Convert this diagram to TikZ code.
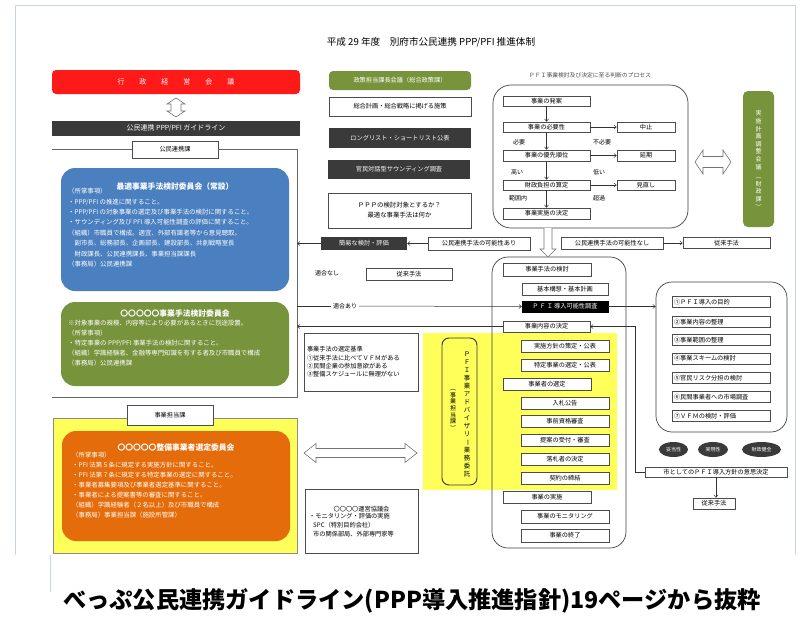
\documentclass[tikz,border=0pt]{standalone}
\usepackage{fontspec}
\setmainfont{Noto Sans CJK JP}
\usetikzlibrary{arrows.meta,shapes.geometric}
\definecolor{rd}{HTML}{FF1A1A}
\definecolor{dk}{HTML}{3A3A3A}
\definecolor{gr}{HTML}{77933C}
\definecolor{bl}{HTML}{4A7FC0}
\definecolor{org}{HTML}{E46C0A}
\definecolor{yl}{HTML}{FFFF5A}
\definecolor{frm}{HTML}{C8D4E6}
\newcommand\fsz[2]{\fontsize{#1}{#2}\selectfont}
\newcommand\vbar{\rotatebox[origin=c]{-90}{ー}}
% hollow block arrows: horizontal double, vertical double, single downward
\newcommand\hdarrowH[6]{\draw[hol] (#1,#3) -- ({#1+#6},{#3-#5}) -- ({#1+#6},{#3-#4}) -- ({#2-#6},{#3-#4}) -- ({#2-#6},{#3-#5}) -- (#2,#3) -- ({#2-#6},{#3+#5}) -- ({#2-#6},{#3+#4}) -- ({#1+#6},{#3+#4}) -- ({#1+#6},{#3+#5}) -- cycle;}
\newcommand\hdarrowV[6]{\draw[hol] (#1,#2) -- ({#1-#5},{#2+#6}) -- ({#1-#4},{#2+#6}) -- ({#1-#4},{#3-#6}) -- ({#1-#5},{#3-#6}) -- (#1,#3) -- ({#1+#5},{#3-#6}) -- ({#1+#4},{#3-#6}) -- ({#1+#4},{#2+#6}) -- ({#1+#5},{#2+#6}) -- cycle;}
\newcommand\hdarrowD[6]{\draw[hol] ({#1-#4},#2) -- ({#1-#4},{#3-#6}) -- ({#1-#5},{#3-#6}) -- (#1,#3) -- ({#1+#5},{#3-#6}) -- ({#1+#4},{#3-#6}) -- ({#1+#4},#2);}
\tikzset{
 wbox/.style={draw=black!70, line width=0.5pt, fill=white, inner sep=0pt, font=\fsz{6.2}{7.5}},
 dbox/.style={draw=none, fill=dk, text=white, inner sep=0pt, font=\fsz{6.2}{7.5}},
 arr/.style={-{Straight Barb[length=2.5pt,width=4pt]}, line width=0.5pt, draw=black!80},
 hol/.style={draw=black!55, fill=white, line width=0.6pt, line join=miter},
 lbl/.style={inner sep=0pt, font=\fsz{6}{7}},
 btxt/.style={inner sep=0pt, anchor=north west, align=left, text=white},
 bigr/.style={draw=black!75, line width=0.7pt, rounded corners=16pt, inner sep=0pt},
 colbox/.style={draw=none, rounded corners=14pt, inner sep=0pt},
 oval/.style={ellipse, fill=dk, text=white, inner sep=0pt, minimum height=15pt, font=\fsz{5}{6}},
}
\begin{document}
\begin{tikzpicture}[x=1pt,y=-1pt]
\useasboundingbox (0,0) rectangle (807,619);
\fill[white] (0,0) rectangle (807,619);
% outer frame
\draw[frm, line width=0.8pt] (15,555) -- (15,5) -- (795,5) -- (795,555);
\draw[frm, line width=0.8pt] (50,555) -- (50,592);
% title
\node[inner sep=0pt, font=\fsz{9.6}{11}] (title) at (431,42) {平成 29 年度　別府市公民連携 PPP/PFI 推進体制};

% ---------- left column
\node[fill=rd, rounded corners=4pt, minimum width=248pt, minimum height=24pt, inner sep=0pt, text=white, font=\fsz{7}{8}] (gyosei) at (176,82) {行\hspace{15pt}政\hspace{15pt}経\hspace{15pt}営\hspace{15pt}会\hspace{15pt}議};
\node[fill=dk, minimum width=248pt, minimum height=15pt, inner sep=0pt, text=white, font=\fsz{7}{8}] (guide) at (176,128.5) {公民連携 PPP/PFI ガイドライン};
\hdarrowV{176}{98}{117}{5}{9}{6}
\node[wbox, minimum width=86pt, minimum height=17pt] (kouminka) at (175,149.5) {公民連携課};
\draw[draw=black!60, line width=0.6pt] (52,149.5) -- (kouminka.west);
\draw[draw=black!60, line width=0.6pt] (kouminka.east) -- (297,149.5) -- (297,397) -- (52,397);
\coordinate (f1) at (297,243.5);
\coordinate (f2) at (297,326.5);
\coordinate (f0) at (297,306);

\node[colbox, fill=bl, minimum width=228pt, minimum height=123pt] (blue) at (175,229.5) {};
\node[inner sep=0pt, text=white, font=\bfseries\fsz{7.8}{9}] (bluet) at (175,187) {最適事業手法検討委員会（常設）};
\node[btxt, font=\fsz{6.4}{10.4}] (bluetx) at (68,188) {（所掌事項）\\・PPP/PFI の推進に関すること。\\・PPP/PFI の対象事業の選定及び事業手法の検討に関すること。\\・サウンディング及び PFI 導入可能性調査の評価に関すること。\\（組織）市職員で構成。適宜、外部有識者等から意見聴取。\\　副市長、総務部長、企画部長、建設部長、共創戦略室長\\　財政課長、公民連携課長、事業担当課課長\\（事務局）公民連携課};

\node[colbox, fill=gr, minimum width=228pt, minimum height=84pt] (green) at (175,344) {};
\node[inner sep=0pt, text=white, font=\bfseries\fsz{7.8}{9}] (greent) at (175,313.5) {〇〇〇〇〇事業手法検討委員会};
\node[btxt, font=\fsz{6.4}{10.2}] (greentx) at (68,319.5) {※対象事業の規模、内容等により必要があるときに別途設置。\\（所掌事項）\\・特定事業の PPP/PFI 事業手法の検討に関すること。\\（組織）学識経験者、金融等専門知識を有する者及び市職員で構成\\（事務局）公民連携課};

\node[draw=black!45, line width=0.5pt, fill=yl, minimum width=244pt, minimum height=135pt, inner sep=0pt] (yellowL) at (175,485.5) {};
\node[wbox, minimum width=86pt, minimum height=20pt] (tanto) at (170,415) {事業担当課};
\node[colbox, fill=org, minimum width=228pt, minimum height=110pt] (orange) at (176,486) {};
\node[inner sep=0pt, text=white, font=\bfseries\fsz{7.8}{9}] (oranget) at (176,448) {〇〇〇〇〇整備事業者選定委員会};
\node[btxt, font=\fsz{6.4}{10}] (orangetx) at (72,451.5) {（所掌事項）\\・PFI 法第５条に規定する実施方針に関すること。\\・PFI 法第７条に規定する特定事業の選定に関すること。\\・事業者募集要項及び事業者選定基準に関すること。\\・事業者による提案書等の審査に関すること。\\（組織）学識経験者（２名以上）及び市職員で構成\\（事務局）事業担当課（施設所管課）};

% ---------- middle column
\node[fill=gr, rounded corners=4pt, minimum width=142pt, minimum height=19pt, inner sep=0pt, text=white, font=\fsz{6.2}{7.5}] (seisaku) at (400,80.5) {政策担当課長会議（総合政策課）};
\node[wbox, minimum width=142pt, minimum height=19pt] (sogo) at (400,106.5) {総合計画・総合戦略に掲げる施策};
\node[dbox, minimum width=142pt, minimum height=20pt] (long) at (400,138) {ロングリスト・ショートリスト公表};
\node[dbox, minimum width=142pt, minimum height=19pt] (kanmin) at (399,169.5) {官民対話型サウンディング調査};
\node[wbox, minimum width=143pt, minimum height=35pt, align=center, font=\fsz{6.4}{10}] (pppq) at (399.5,210.5) {ＰＰＰの検討対象とするか？\\最適な事業手法は何か};
\node[dbox, minimum width=86pt, minimum height=13pt] (kani) at (364,243.5) {簡易な検討・評価};
\node[wbox, minimum width=102pt, minimum height=13pt] (kanoari) at (479,243.5) {公民連携手法の可能性あり};
\draw[arr] (kanoari.west) -- (kani.east);
\draw[arr] (kani.west) -- (f1);
\node[lbl] (tekinashi) at (327,273.5) {適合なし};
\node[wbox, minimum width=86pt, minimum height=12pt] (jurai1) at (409,274) {従来手法};

\node[wbox, minimum width=114pt, minimum height=58pt, text width=108pt, align=left, font=\fsz{6.2}{8.4}] (kijun) at (361,362) {事業手法の選定基準\\①従来手法に比べてＶＦＭがある\\②民間企業の参加意欲がある\\③整備スケジュールに無理がない\\[8pt]};

\fill[yl] (423,333) rectangle (617,490);
\node[draw=black!80, line width=0.9pt, fill=yl, rounded corners=7pt, minimum width=35pt, minimum height=147pt, inner sep=0pt] (advisor) at (459.5,411.5) {};
\node[inner sep=0pt, align=center, font=\fsz{6.4}{8}] (advt) at (467,414) {Ｐ\\Ｆ\\Ｉ\\事\\業\\ア\\ド\\バ\\イ\\ザ\\リ\\\vbar\\業\\務\\委\\託};
\node[inner sep=0pt, align=center, font=\fsz{6}{6.6}] (advt2) at (453,410) {︵\\事\\業\\担\\当\\課\\︶};

\hdarrowH{304}{417}{453}{4.5}{9.5}{12}

\node[wbox, minimum width=113pt, minimum height=64pt] (unei) at (361.5,521) {};
\node[inner sep=0pt, font=\fsz{6.2}{7.5}] (ueit) at (361.5,509) {〇〇〇〇運営協議会};
\node[inner sep=0pt, anchor=north west, align=left, font=\fsz{6.2}{9}] (ueitx) at (309,513) {・モニタリング・評価の実施\\\hspace*{4pt}SPC（特別目的会社）\\\hspace*{4pt}市の関係部局、外部専門家等};

% ---------- process column (top)
\node[bigr, rounded corners=18pt, minimum width=195pt, minimum height=143pt] (proc) at (590.5,156.5) {};
\node[inner sep=0pt, text=black!70, font=\fsz{5.8}{7}] (proct) at (590,75) {ＰＦＩ事業検討及び決定に至る判断のプロセス};
\node[wbox, minimum width=87pt, minimum height=10pt] (hatsuan) at (546.5,101) {事業の発案};
\node[wbox, minimum width=87pt, minimum height=10pt] (hitsuyo) at (546.5,127) {事業の必要性};
\node[wbox, minimum width=87pt, minimum height=11pt] (yusen) at (546.5,155.5) {事業の優先順位};
\node[wbox, minimum width=87pt, minimum height=10pt] (zaisei) at (546.5,185) {財政負担の算定};
\node[wbox, minimum width=87pt, minimum height=11pt] (kettei) at (546.5,213.5) {事業実施の決定};
\node[wbox, minimum width=58pt, minimum height=10pt] (chushi) at (646,127) {中止};
\node[wbox, minimum width=58pt, minimum height=11pt] (enki) at (646,155.5) {延期};
\node[wbox, minimum width=58pt, minimum height=10pt] (minaoshi) at (646,185) {見直し};
\draw[arr] (hatsuan) -- (hitsuyo);
\draw[arr] (hitsuyo) -- (yusen);
\draw[arr] (yusen) -- (zaisei);
\draw[arr] (zaisei) -- (kettei);
\draw[arr] (hitsuyo) -- (chushi);
\draw[arr] (yusen) -- (enki);
\draw[arr] (zaisei) -- (minaoshi);
\node[lbl] (l1) at (519,142) {必要};
\node[lbl] (l2) at (602,142) {不必要};
\node[lbl] (l3) at (517,172.5) {高い};
\node[lbl] (l4) at (599,172.5) {低い};
\node[lbl] (l5) at (518,198) {範囲内};
\node[lbl] (l6) at (599,198) {超過};

\node[wbox, minimum width=102pt, minimum height=12pt] (kanonashi) at (612,243) {公民連携手法の可能性なし};
\node[wbox, minimum width=87pt, minimum height=11pt] (jurai2) at (726.5,243) {従来手法};
\draw[arr] (kanonashi.east) -- (jurai2.west);

\node[fill=gr, rounded corners=5pt, minimum width=31pt, minimum height=136pt, inner sep=0pt] (jk) at (758.5,159) {};
\node[inner sep=0pt, align=center, text=white, font=\fsz{6}{7.6}] (jkt) at (758.5,160) {実\\施\\計\\画\\調\\整\\会\\議\\[2pt]︵\\財\\政\\課\\︶};
\hdarrowH{695}{731}{162}{5.5}{12}{8}

% ---------- second process box
\node[bigr, minimum width=134pt, minimum height=291pt] (proc2) at (559,402.5) {};
\hdarrowD{548}{228}{257}{4}{8}{8}
\node[wbox, minimum width=88pt, minimum height=13pt] (kento) at (547,269.5) {事業手法の検討};
\node[wbox, minimum width=86pt, minimum height=12pt] (kihon) at (565,289) {基本構想・基本計画};
\node[draw=black, fill=black, text=white, minimum width=86pt, minimum height=11pt, inner sep=0pt, font=\fsz{6.2}{7.5}] (fs) at (565,306.5) {Ｐ\,Ｆ\,Ｉ\,導入可能性調査};
\node[wbox, minimum width=87pt, minimum height=11pt] (naiyo) at (546.5,326.5) {事業内容の決定};
\node[wbox, minimum width=88pt, minimum height=12pt] (hoshin) at (565,346) {実施方針の策定・公表};
\node[wbox, minimum width=88pt, minimum height=12pt] (tokutei) at (565,365) {特定事業の選定・公表};
\node[wbox, minimum width=88pt, minimum height=12pt] (senteiA) at (547,384) {事業者の選定};
\node[wbox, minimum width=88pt, minimum height=12pt] (nyusatsu) at (565,403) {入札公告};
\node[wbox, minimum width=88pt, minimum height=12pt] (shikaku) at (565,421) {事前資格審査};
\node[wbox, minimum width=88pt, minimum height=12pt] (teian) at (565,440) {提案の受付・審査};
\node[wbox, minimum width=88pt, minimum height=12pt] (rakusatsu) at (565,459) {落札者の決定};
\node[wbox, minimum width=88pt, minimum height=12pt] (keiyaku) at (565,478) {契約の締結};
\node[wbox, minimum width=88pt, minimum height=12pt] (jisshi) at (547,497) {事業の実施};
\node[wbox, minimum width=88pt, minimum height=13pt] (monitor) at (565,516.5) {事業のモニタリング};
\node[wbox, minimum width=88pt, minimum height=13pt] (shuryo) at (565,535.5) {事業の終了};

\draw[draw=black!80, line width=0.5pt] (f0) -- (340,306);
\draw[arr] (351,306) -- (fs.west);
\node[lbl, fill=white, inner xsep=2pt] (tekiari) at (345,306) {適合あり};
\draw[arr] (naiyo.west) -- (f2);

% ---------- third box
\node[bigr, minimum width=131pt, minimum height=150pt] (proc3) at (721.5,357) {};
\draw[arr] (fs.east) -- (fs.east -| proc3.west);
\foreach \n/\y/\t in {m1/302/①ＰＦＩ導入の目的, m2/322/②事業内容の整理, m3/340/③事業範囲の整理, m4/358.5/④事業スキームの検討, m5/378/⑤官民リスク分担の検討, m6/397/⑥民間事業者への市場調査, m7/416/⑦ＶＦＭの検討・評価}{
 \node[wbox, minimum width=98pt, minimum height=11pt, text width=94pt, align=left] (\n) at (721,\y) {\t};
}
\node[oval, minimum width=29pt] (e1) at (673.5,449.5) {妥当性};
\node[oval, minimum width=30pt] (e2) at (713,449.5) {実現性};
\node[oval, minimum width=39pt] (e3) at (761.5,449.5) {財政健全};
\node[wbox, minimum width=142pt, minimum height=10pt] (ishi) at (716,472) {市としてのＰＦＩ導入方針の意思決定};
\node[wbox, minimum width=42pt, minimum height=11pt] (jurai3) at (714,503.5) {従来手法};
\draw[arr] (ishi.south) -- (ishi.south |- jurai3.north);
\coordinate (c1) at (635,472);
\coordinate (c2) at (635,326.5);
\draw[arr] (ishi.west) -- (c1) -- (c2) -- (naiyo.east);

% caption
\node[inner sep=0pt, font=\bfseries\fsz{23.2}{26}] (cap) at (412,601) {べっぷ公民連携ガイドライン(PPP導入推進指針)19ページから抜粋};
\end{tikzpicture}
\end{document}
